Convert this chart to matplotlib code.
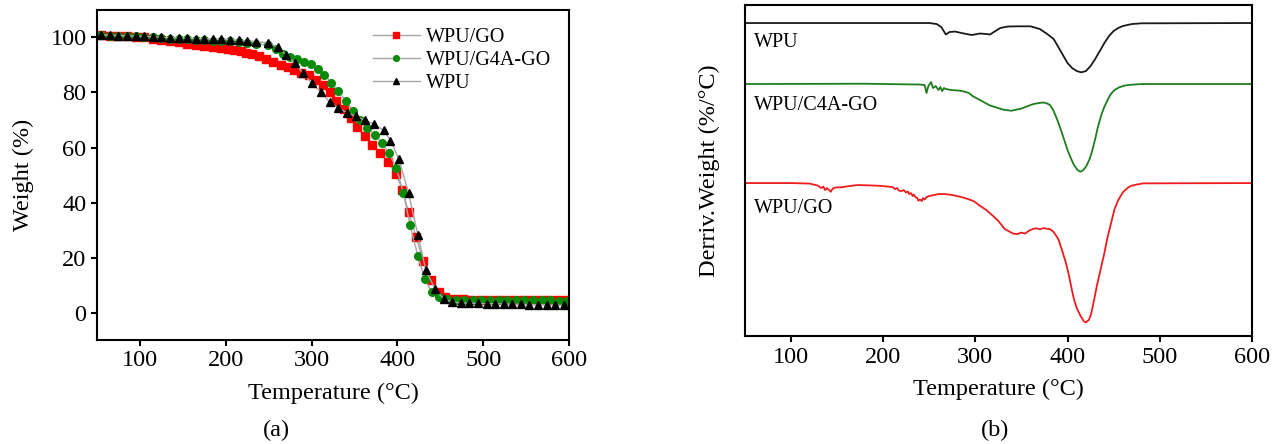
import matplotlib
matplotlib.use('Agg')
import matplotlib.pyplot as plt

plt.rcParams['font.family'] = ['Liberation Serif', 'DejaVu Serif']
plt.rcParams['axes.linewidth'] = 1.5

# ---- (a) TGA: weight (%) vs temperature, marker positions ----
go_T = [55, 65, 75, 85, 95, 105, 115, 125, 135, 145, 155, 165, 175, 185, 195,
        203, 210, 218, 224, 231, 239, 247, 255, 264, 272, 280, 288, 297, 305,
        313, 321, 329, 338, 346, 353, 362, 371, 380, 389, 398, 406, 413, 422,
        430, 439, 448, 456, 466, 476, 486, 496, 506, 516, 526, 536, 546, 556,
        566, 576, 586, 596]
go_W = [100.8, 100.7, 100.6, 100.5, 100.3, 100.1, 99.6, 99.0, 98.6, 98.2,
        97.6, 97.2, 96.9, 96.6, 96.2, 95.9, 95.5, 95.0, 94.5, 94.0, 93.2,
        92.2, 91.0, 90.1, 89.2, 88.3, 87.2, 86.2, 84.5, 82.6, 80.0, 77.0,
        74.0, 70.7, 67.3, 64.0, 60.8, 58.0, 54.8, 50.5, 44.6, 36.5, 27.5,
        18.6, 11.7, 7.5, 5.6, 5.0, 4.8, 4.7, 4.6, 4.6, 4.5, 4.5, 4.5, 4.5,
        4.4, 4.4, 4.4, 4.4, 4.4]

g4a_T = [55, 65, 75, 85, 95, 105, 115, 125, 135, 145, 155, 165, 175, 185,
         195, 205, 215, 225, 235, 249, 258, 267, 275, 283, 291, 299, 307,
         315, 323, 331, 340, 348, 356, 365, 374, 382, 390, 399, 407, 415,
         424, 432, 440, 449, 458, 468, 478, 488, 498, 508, 518, 528, 538,
         548, 558, 568, 578, 588, 598]
g4a_W = [100.8, 100.7, 100.6, 100.5, 100.4, 100.2, 100.0, 99.8, 99.6, 99.4,
         99.3, 99.1, 99.0, 98.9, 98.8, 98.6, 98.4, 98.1, 97.8, 97.1, 95.8,
         94.0, 92.9, 92.0, 91.1, 90.3, 88.6, 86.5, 83.6, 80.5, 76.9, 73.3,
         70.1, 67.1, 64.4, 61.7, 58.1, 52.5, 43.4, 31.7, 20.4, 12.2, 7.5,
         5.6, 5.0, 4.7, 4.6, 4.6, 4.5, 4.5, 4.5, 4.5, 4.4, 4.4, 4.4, 4.4,
         4.4, 4.3, 4.3]

wpu_T = [55, 65, 75, 85, 95, 105, 115, 125, 135, 145, 155, 165, 175, 185,
         195, 205, 215, 225, 235, 249, 261, 270, 281, 290, 300, 311, 321,
         331, 341, 352, 362, 373, 384, 392, 402, 413, 424, 433, 444, 454,
         464, 474, 484, 494, 504, 514, 524, 534, 544, 554, 564, 574, 584, 594]
wpu_W = [100.9, 100.8, 100.7, 100.6, 100.5, 100.4, 100.2, 100.1, 99.9, 99.8,
         99.7, 99.6, 99.5, 99.4, 99.3, 99.2, 99.0, 98.8, 98.5, 98.0, 96.6,
         93.6, 90.6, 87.0, 83.5, 80.0, 76.6, 74.3, 72.7, 71.3, 69.9, 68.5,
         66.2, 62.5, 55.7, 43.4, 28.1, 15.6, 8.4, 5.0, 3.8, 3.5, 3.4, 3.3,
         3.2, 3.2, 3.1, 3.0, 3.0, 2.9, 2.8, 2.8, 2.7, 2.6]

# ---- (b) DTG: curve depth below its own baseline (arbitrary units) ----
dtg_wpu_T = [50, 250, 258, 263, 268, 272, 278, 285, 296, 305, 312, 316, 320,
             327, 335, 345, 360, 370, 378, 385, 390, 395, 400, 405, 410, 415,
             420, 425, 430, 435, 440, 445, 450, 455, 460, 470, 480, 600]
dtg_wpu_d = [0, 0, 1, 4, 11.5, 9, 8.5, 10, 12, 10.5, 11, 11.5, 9, 5, 3.5,
             3.3, 3.3, 6, 11, 16, 24, 32, 40, 45, 48, 49.3, 48, 43, 36, 28,
             20, 13, 8, 5, 3, 1, 0.3, 0]

dtg_c4a_T = [50, 175, 180, 240, 245, 247, 249, 252, 254, 257, 260, 262, 264,
             266, 268, 274, 282, 288, 293, 297, 303, 310, 316, 323, 330, 339,
             345, 350, 357, 363, 370, 374, 378, 381, 385, 389, 394, 400, 404,
             407, 411, 414, 417, 420, 424, 427, 430, 433, 437, 440, 444, 447,
             451, 456, 462, 469, 480, 600]
dtg_c4a_d = [0, -0.3, -0.3, 0.5, 1, 9, 2, -2, 4, 2, 6, 3, 7, 4, 5, 6, 6.5,
             7.5, 9, 12, 15, 18.5, 21.5, 23.5, 25.5, 26.7, 25.5, 24.5, 22, 20,
             18.8, 18.5, 19.5, 21, 27, 36, 49, 66, 75, 81, 86, 87.7, 86, 82.7,
             75, 66, 55, 42.7, 30, 22.7, 15, 10, 6, 3.3, 1.5, 0.7, 0, 0]

dtg_go_T = [50, 100, 120, 129, 131, 133, 135, 137, 139, 140, 142, 143, 145,
            146, 150, 154, 163, 172, 185, 195, 203, 210, 213, 215, 217, 220,
            222, 225, 227, 228, 230, 232, 233, 235, 237, 238, 240, 242, 243,
            245, 247, 250, 255, 260, 266, 272, 279, 285, 292, 298, 305, 312,
            319, 325, 332, 338, 341, 345, 350, 354, 358, 363, 367, 370, 374,
            377, 381, 385, 390, 394, 398, 401, 403, 405, 407, 410, 414, 417,
            418, 420, 421, 423, 425, 427, 429, 432, 436, 440, 443, 447, 451,
            455, 460, 465, 469, 475, 482, 600]
dtg_go_d = [0, 0, 0.5, 2.5, 4, 5, 3.5, 7, 5, 6, 7.5, 8.7, 6, 5, 4.3, 4.3, 3,
            2, 2.3, 2.7, 3.3, 4, 6, 5, 7.5, 8, 7, 9.5, 8.5, 11, 10, 13, 11.5,
            14, 15, 17.5, 16.5, 18, 15, 16.5, 14, 13, 12, 11, 11, 11.5, 12.7,
            14, 16, 18, 22.7, 27, 32.7, 38, 46, 49, 50.5, 51, 49.5, 50.5,
            47.7, 45.7, 45.3, 46.2, 45, 45.6, 46, 49, 56, 67, 79, 90, 99, 108,
            116, 125, 132.7, 137, 138.5, 139.3, 138.3, 137, 132.7, 125, 116,
            102, 86, 70, 56, 41, 26, 17, 9.3, 5, 2.7, 1.5, 0.3, 0]

dtg_offsets = {'WPU': -23, 'WPU/C4A-GO': -84, 'WPU/GO': -183}

FS = 17.5

fig = plt.figure(figsize=(12.8, 4.44), dpi=100)
ax1 = fig.add_axes([0.0758, 0.2342, 0.3687, 0.7433])
ax2 = fig.add_axes([0.582, 0.243, 0.396, 0.7457])

line_kw = dict(color='#a6a6a6', linewidth=1.0)
ax1.plot(go_T, go_W, marker='s', markersize=5.5, markerfacecolor='red',
         markeredgecolor='red', label='WPU/GO', **line_kw)
ax1.plot(g4a_T, g4a_W, marker='o', markersize=5.5, markerfacecolor='#0a8a0a',
         markeredgecolor='#0a8a0a', label='WPU/G4A-GO', **line_kw)
ax1.plot(wpu_T, wpu_W, marker='^', markersize=6, markerfacecolor='black',
         markeredgecolor='black', label='WPU', **line_kw)

ax1.set_xlim(50, 600)
ax1.set_ylim(-10, 110)
ax1.set_xticks([100, 200, 300, 400, 500, 600])
ax1.set_yticks([0, 20, 40, 60, 80, 100])
ax1.tick_params(labelsize=FS, width=1.5, length=4)
ax1.set_xlabel('Temperature (°C)', fontsize=FS, labelpad=8)
ax1.set_ylabel('Weight (%)', fontsize=FS, labelpad=12)
ax1.legend(loc='upper right', frameon=False, fontsize=14.5, handlelength=2.3,
           handletextpad=0.3, labelspacing=0.2, borderaxespad=0.5,
           markerscale=0.75)

ax2.plot(dtg_wpu_T, [dtg_offsets['WPU'] - d for d in dtg_wpu_d],
         color='#1a1a1a', linewidth=1.3)
ax2.plot(dtg_c4a_T, [dtg_offsets['WPU/C4A-GO'] - d for d in dtg_c4a_d],
         color='#1e7d1e', linewidth=1.3)
ax2.plot(dtg_go_T, [dtg_offsets['WPU/GO'] - d for d in dtg_go_d],
         color='#ee1c1c', linewidth=1.3)
for name, y in [('WPU', -42), ('WPU/C4A-GO', -105), ('WPU/GO', -208)]:
    ax2.text(60, y, name, fontsize=14.5, va='center', ha='left')

ax2.set_xlim(50, 600)
ax2.set_ylim(-336, -5)
ax2.set_xticks([100, 200, 300, 400, 500, 600])
ax2.set_yticks([])
ax2.tick_params(labelsize=FS, width=1.5, length=4)
ax2.set_xlabel('Temperature (°C)', fontsize=FS, labelpad=8)
ax2.set_ylabel('Derriv.Weight (%/°C)', fontsize=FS, labelpad=18)

fig.text(0.2156, 0.031, '(a)', fontsize=FS, ha='center', va='center')
fig.text(0.7773, 0.031, '(b)', fontsize=FS, ha='center', va='center')

fig.savefig('out.png', dpi=100)
